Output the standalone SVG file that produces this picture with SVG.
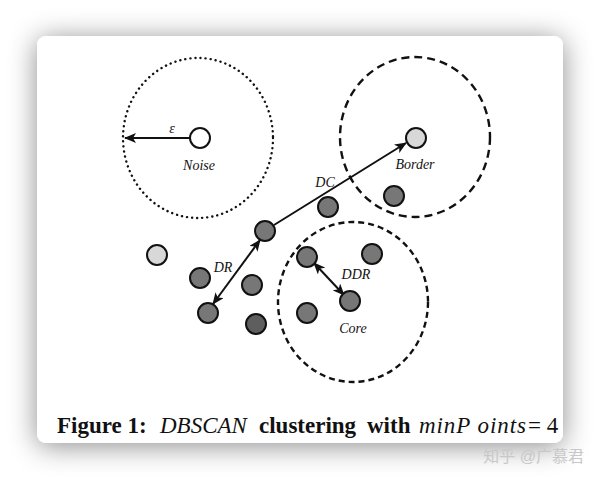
<svg xmlns="http://www.w3.org/2000/svg" width="600" height="480" viewBox="0 0 600 480">
<style>
.lbl{font-family:"Liberation Serif","DejaVu Serif",serif;font-style:italic;font-size:14px;fill:#111;text-anchor:middle}
.pt{stroke:#111;stroke-width:2}
.g{fill:#777}
.ln{stroke:#111;stroke-width:2;fill:none}
.cap{font-family:"Liberation Serif","DejaVu Serif",serif;font-size:23px;fill:#111}
</style>
<defs>
<filter id="sh" x="-20%" y="-20%" width="140%" height="140%">
<feDropShadow dx="0" dy="3" stdDeviation="14" flood-color="#000" flood-opacity="0.45"/>
</filter>
<marker id="ah" viewBox="0 0 12 10" refX="11" refY="5" markerWidth="12" markerHeight="10" markerUnits="userSpaceOnUse" orient="auto-start-reverse">
<path d="M0,0 L12,5 L0,10 L3,5 Z" fill="#111"/>
</marker>
</defs>
<rect width="600" height="480" fill="#fff"/>
<rect x="37" y="36" width="526" height="407" rx="9" fill="#fff" filter="url(#sh)"/>
<g id="regions" fill="none" stroke="#111">
<ellipse id="noise-region" cx="198" cy="138" rx="75" ry="80" stroke-width="2.4" stroke-dasharray="0.1 5" stroke-linecap="round"/>
<ellipse id="border-region" cx="415" cy="137" rx="75" ry="80" stroke-width="2.4" stroke-dasharray="8 5"/>
<ellipse id="core-region" cx="353" cy="302" rx="75" ry="80" stroke-width="2.4" stroke-dasharray="6 4"/>
</g>
<g id="connectors">
<line class="ln" x1="190" y1="138" x2="125" y2="138" marker-end="url(#ah)"/>
<line class="ln" x1="274" y1="225" x2="406" y2="143" marker-end="url(#ah)"/>
<line class="ln" x1="213" y1="304" x2="260" y2="240" marker-start="url(#ah)" marker-end="url(#ah)"/>
<line class="ln" x1="314" y1="263" x2="344" y2="295" marker-start="url(#ah)" marker-end="url(#ah)"/>
</g>
<g id="noise"><circle class="pt" cx="200" cy="138" r="10" fill="#fff"/><text class="lbl" x="199" y="170">Noise</text><text class="lbl" x="172" y="133">ε</text></g>
<g id="border"><circle class="pt" cx="416" cy="138" r="10" fill="#d8d8d8"/><text class="lbl" x="415" y="169">Border</text></g>
<g id="core"><circle class="pt g" cx="350" cy="301" r="10"/><text class="lbl" x="353" y="333">Core</text></g>
<g id="points">
<circle class="pt" cx="157" cy="255" r="10" fill="#d8d8d8"/>
<circle class="pt g" cx="265" cy="231" r="10"/>
<circle class="pt g" cx="328" cy="207" r="10"/>
<circle class="pt g" cx="394" cy="196" r="10"/>
<circle class="pt g" cx="200" cy="278" r="10"/>
<circle class="pt g" cx="252" cy="285" r="10"/>
<circle class="pt g" cx="208" cy="313" r="10"/>
<circle class="pt" cx="256" cy="324" r="10" fill="#5e5e5e"/>
<circle class="pt g" cx="307" cy="257" r="10"/>
<circle class="pt g" cx="372" cy="254" r="10"/>
<circle class="pt g" cx="307" cy="313" r="10"/>
</g>
<g id="labels">
<text class="lbl" x="325" y="187">DC</text>
<text class="lbl" x="223" y="272">DR</text>
<text class="lbl" x="356" y="279">DDR</text>
</g>
<g id="caption" class="cap">
<text x="57" y="433" font-weight="bold">Figure 1:</text>
<text x="160" y="433" font-style="italic">DBSCAN</text>
<text x="259" y="433" font-weight="bold">clustering</text>
<text x="367" y="433" font-weight="bold">with</text>
<text x="419" y="433" font-style="italic" textLength="107" lengthAdjust="spacing">minP oints</text>
<text x="528" y="433">= 4</text>
</g>
<text x="584" y="462" text-anchor="end" font-family="Liberation Sans,Noto Sans CJK SC,sans-serif" font-size="16" fill="#c8c8c8">知乎 @广慕君</text>
</svg>
